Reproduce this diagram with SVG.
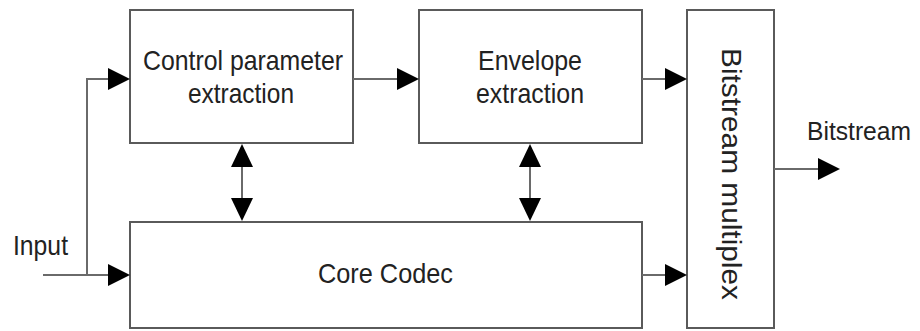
<svg xmlns="http://www.w3.org/2000/svg" width="920" height="331" viewBox="0 0 920 331">
<style>
.box{fill:#fff;stroke:#5a5a5a;stroke-width:2}
.ln{fill:none;stroke:#6a6a6a;stroke-width:2}
.ah{fill:#000;stroke:none}
text{font-family:"Liberation Sans",Arial,sans-serif;font-size:28px;fill:#222}
.c{text-anchor:middle}
</style>
<rect width="920" height="331" fill="#fff"/>
<g id="control">
<rect class="box" x="130" y="10" width="223" height="133"/>
<text class="c" x="243" y="70" textLength="200" lengthAdjust="spacingAndGlyphs">Control parameter</text>
<text class="c" x="241" y="103" textLength="106" lengthAdjust="spacingAndGlyphs">extraction</text>
</g>
<g id="envelope">
<rect class="box" x="419" y="10" width="223" height="133"/>
<text class="c" x="530" y="70" textLength="104" lengthAdjust="spacingAndGlyphs">Envelope</text>
<text class="c" x="530" y="103" textLength="108" lengthAdjust="spacingAndGlyphs">extraction</text>
</g>
<g id="core">
<rect class="box" x="130" y="222" width="512" height="106"/>
<text class="c" x="385.5" y="283" textLength="135" lengthAdjust="spacingAndGlyphs">Core Codec</text>
</g>
<g id="mux">
<rect class="box" x="687" y="10" width="87" height="318"/>
<text class="c" transform="translate(722,174) rotate(90)" x="0" y="0" textLength="252" lengthAdjust="spacingAndGlyphs">Bitstream multiplex</text>
</g>
<g id="labels">
<text x="13" y="255" textLength="55" lengthAdjust="spacingAndGlyphs">Input</text>
<text x="807" y="140" style="font-size:25px" textLength="104" lengthAdjust="spacingAndGlyphs">Bitstream</text>
</g>
<g id="connectors">
<polyline class="ln" points="43,275 110,275"/>
<polyline class="ln" points="87,275 87,79 110,79"/>
<polygon class="ah" points="130,275 108,264 108,286"/>
<polygon class="ah" points="130,79 108,68 108,90"/>
<line class="ln" x1="353" y1="79" x2="399" y2="79"/>
<polygon class="ah" points="419,79 397,68 397,90"/>
<line class="ln" x1="642" y1="79" x2="667" y2="79"/>
<polygon class="ah" points="687,79 665,68 665,90"/>
<line class="ln" x1="642" y1="275" x2="667" y2="275"/>
<polygon class="ah" points="687,275 665,264 665,286"/>
<line class="ln" x1="774" y1="169" x2="820" y2="169"/>
<polygon class="ah" points="840,169 818,158 818,180"/>
<line class="ln" x1="242" y1="160" x2="242" y2="205"/>
<polygon class="ah" points="242,144 231,167 253,167"/>
<polygon class="ah" points="242,221 231,198 253,198"/>
<line class="ln" x1="530" y1="160" x2="530" y2="205"/>
<polygon class="ah" points="530,144 519,167 541,167"/>
<polygon class="ah" points="530,221 519,198 541,198"/>
</g>
</svg>
